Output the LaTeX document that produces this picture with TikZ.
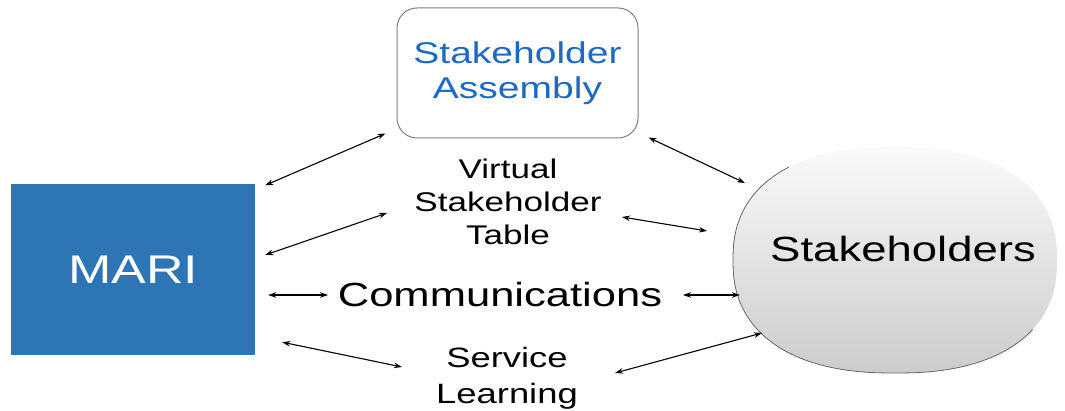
\documentclass[tikz,border=0pt]{standalone}
\usepackage{fontspec}
\setmainfont{Liberation Sans}[FakeStretch=1.3]
\usetikzlibrary{arrows.meta}

\definecolor{mariblue}{RGB}{46,117,182}
\definecolor{assemblyblue}{RGB}{28,106,196}

\begin{document}
\begin{tikzpicture}[x=1pt, y=1pt,
    link/.style={<->, >={Stealth[length=8pt, width=5.5pt]}, line width=1.1pt},
    midtext/.style={align=center, inner sep=2pt}]
    \useasboundingbox (0,0) rectangle (1065,411);

    % Boxes
    \node[fill=mariblue, minimum width=244pt, minimum height=171pt, text=white,
          font=\fontsize{40}{48}\selectfont] (mari) at (133,141) {MARI};
    \node[draw=black!50, line width=1pt, rounded corners=20pt, minimum width=241pt,
          minimum height=130pt, align=center, text=assemblyblue,
          font=\fontsize{30}{35}\selectfont] (assembly) at (517.5,338) {Stakeholder\\Assembly};

    % Stakeholders oval (a little squarer than an ellipse)
    \shade[top color=black!2, bottom color=black!20, middle color=black!11]
        plot[domain=1.5:361.5, samples=121, variable=\t, smooth]
        ({895+162*sign(cos(\t))*abs(cos(\t))^0.85}, {151+113*sign(sin(\t))*abs(sin(\t))^0.85}) -- cycle;
    \draw[black!60, line width=0.8pt]
        plot[domain=127.5:325.5, samples=67, variable=\t, smooth]
        ({895+162*sign(cos(\t))*abs(cos(\t))^0.85}, {151+113*sign(sin(\t))*abs(sin(\t))^0.85});
    \node[font=\fontsize{35}{42}\selectfont] (stake) at (903,162) {Stakeholders};

    % Channels
    \node[midtext, font=\fontsize{27}{33}\selectfont] (vst) at (508,209) {Virtual\\Stakeholder\\Table};
    \node[midtext, font=\fontsize{33.5}{40}\selectfont] (comm) at (500,116) {Communications};
    \node[midtext, font=\fontsize{28}{36}\selectfont] (service) at (507,33) {Service\\Learning};

    % Arrows
    \draw[link] ([shift={(10,-1)}]mari.north east) -- ([shift={(-11,5)}]assembly.south west);
    \draw[link] ([shift={(10,1)}]assembly.south east) -- ([shift={(-158,66)}]stake.center);
    \draw[link] ([shift={(10,15)}]mari.east) -- ([shift={(-121,-11)}]vst.center);
    \draw[link] ([shift={(114,-15)}]vst.center) -- ([shift={(-196,18)}]stake.center);
    \draw[link] ([shift={(13,-25)}]mari.east) -- ([shift={(-172,0)}]comm.center);
    \draw[link] ([shift={(183,0)}]comm.center) -- ([shift={(-163,-46)}]stake.center);
    \draw[link] ([shift={(27,13.5)}]mari.south east) -- ([shift={(-105,11)}]service.center);
    \draw[link] ([shift={(108,5)}]service.center) -- ([shift={(-141,-84)}]stake.center);
\end{tikzpicture}
\end{document}
